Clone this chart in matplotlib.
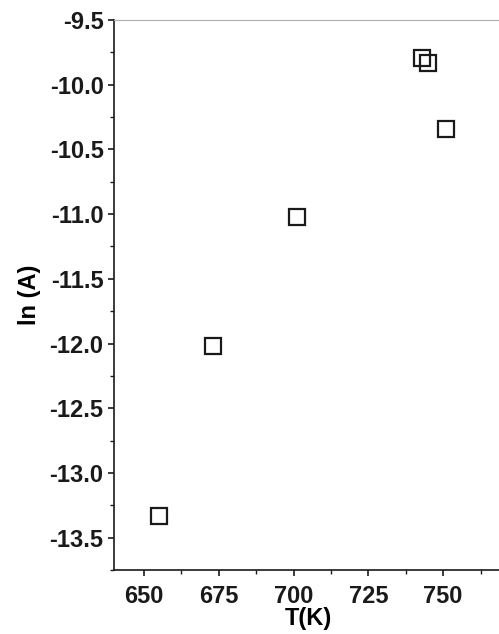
import matplotlib
matplotlib.use("Agg")
import matplotlib.pyplot as plt
from matplotlib.ticker import MultipleLocator, FormatStrFormatter

plt.rcParams['font.family'] = ['Liberation Sans', 'DejaVu Sans']
plt.rcParams['font.weight'] = 'bold'

# temperature (K) and ln(A)
temperature = [655, 673, 701, 743, 745, 751]
ln_a = [-13.33, -12.02, -11.02, -9.79, -9.835, -10.345]

fig = plt.figure(figsize=(4.99, 6.34), dpi=100)
ax = fig.add_axes([114 / 499, 64 / 634, 389 / 499, 550 / 634])

ax.plot(temperature, ln_a, linestyle='none', marker='s', markersize=11,
        markerfacecolor='none', markeredgecolor='#1a1a1a', markeredgewidth=1.6)

ax.set_xlim(640, 770)
ax.set_ylim(-13.75, -9.5)
ax.xaxis.set_major_locator(MultipleLocator(25))
ax.xaxis.set_minor_locator(MultipleLocator(12.5))
ax.yaxis.set_major_locator(MultipleLocator(0.5))
ax.yaxis.set_minor_locator(MultipleLocator(0.25))
ax.yaxis.set_major_formatter(FormatStrFormatter('%.1f'))

ax.spines['right'].set_visible(False)
ax.spines['top'].set_color('#b0b0b0')
ax.spines['top'].set_linewidth(0.8)
for s in ('left', 'bottom'):
    ax.spines[s].set_linewidth(1.2)
    ax.spines[s].set_color('#1a1a1a')

ax.tick_params(which='major', direction='out', length=4.5, width=1.2,
               labelsize=17, pad=3, colors='#1a1a1a')
ax.tick_params(axis='x', which='major', pad=6)
ax.tick_params(which='minor', direction='out', length=3, width=1.0,
               colors='#1a1a1a')
for lbl in ax.get_xticklabels() + ax.get_yticklabels():
    lbl.set_fontweight('bold')

ax.set_xlabel('T(K)', fontsize=17, fontweight='bold', labelpad=-0.5)
ax.set_ylabel('ln (A)', fontsize=17, fontweight='bold', labelpad=6)

fig.savefig('out.png', dpi=100)
